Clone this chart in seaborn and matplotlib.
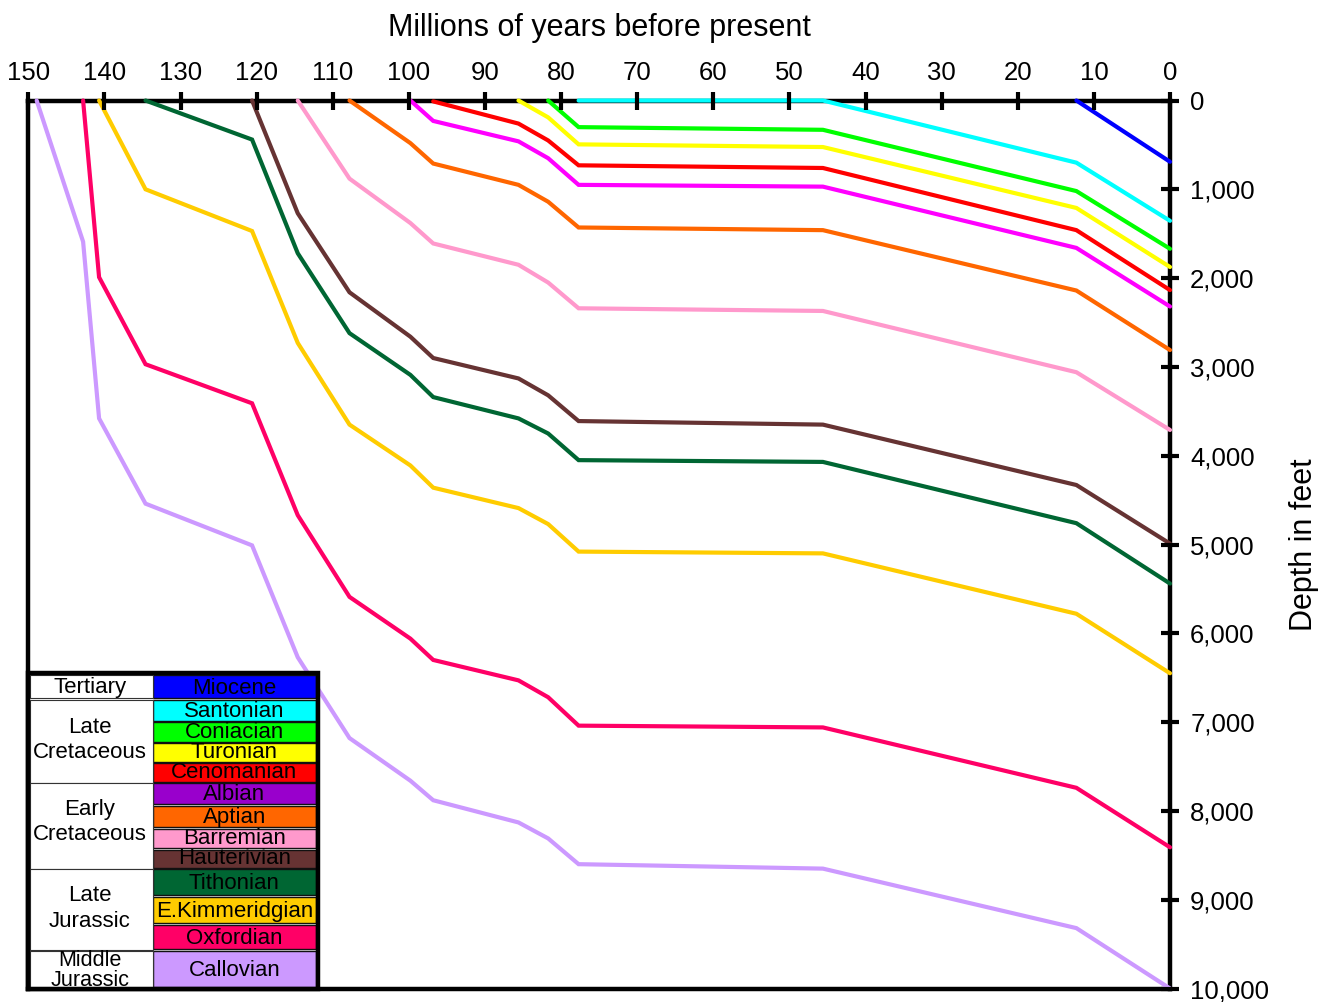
import matplotlib
matplotlib.use("Agg")
import matplotlib.pyplot as plt
from matplotlib.patches import Rectangle
import seaborn as sns
import pandas as pd

# ---------------- data ----------------
AGES = [148.9, 142.8, 140.7, 134.6, 120.6, 114.6, 107.8, 99.8, 96.8,
        85.6, 81.7, 77.7, 45.6, 12.3, 0.0]

STAGES = ["Miocene", "Santonian", "Coniacian", "Turonian", "Cenomanian",
          "Albian", "Aptian", "Barremian", "Hauterivian", "Tithonian",
          "E.Kimmeridgian", "Oxfordian", "Callovian"]

# depth (feet) of the top of each stage; each series ends at present (age 0)
miocene = [0, 690]
santonian = [0, 0, 700, 1355]
coniacian = [0, 300, 330, 1020, 1670]
turonian = [0, 190, 494, 524, 1210, 1875]
cenomanian = [10, 260, 450, 730, 760, 1460, 2135]
albian = [0, 230, 460, 650, 950, 970, 1660, 2320]
aptian = [0, 480, 710, 950, 1140, 1430, 1460, 2140, 2810]
barremian = [0, 880, 1380, 1610, 1850, 2050, 2340, 2370, 3060, 3710]
hauterivian = [0, 1270, 2160, 2660, 2900, 3130, 3320, 3610, 3650, 4330, 4990]
tithonian = [0, 440, 1720, 2620, 3090, 3340, 3580, 3750, 4050, 4070, 4760, 5440]
kimmeridgian = [0, 1000, 1470, 2730, 3650, 4110, 4360, 4590, 4770, 5080,
                5100, 5780, 6450]
oxfordian = [0, 1990, 2970, 3410, 4670, 5590, 6060, 6300, 6530, 6720, 7040,
             7060, 7740, 8410]
callovian = [0, 1590, 3580, 4540, 5010, 6270, 7180, 7660, 7880, 8130, 8310,
             8600, 8650, 9320, 10000]

DEPTHS = [miocene, santonian, coniacian, turonian, cenomanian, albian, aptian,
          barremian, hauterivian, tithonian, kimmeridgian, oxfordian, callovian]

LINE_COLORS = ["#0000FF", "#00FFFF", "#00FF00", "#FFFF00", "#FF0000",
               "#FF00FF", "#FF6600", "#FF99CC", "#663333", "#006633",
               "#FFCC00", "#FF0066", "#CC99FF"]
LEGEND_COLORS = ["#0000FF", "#00FFFF", "#00FF00", "#FFFF00", "#FF0000",
                 "#9900CC", "#FF6600", "#FF99CC", "#663333", "#006633",
                 "#FFCC00", "#FF0066", "#CC99FF"]

PERIODS = ["Tertiary", "Late\nCretaceous", "Early\nCretaceous",
           "Late\nJurassic", "Middle\nJurassic"]

X_TICKS = list(range(150, -1, -10))
Y_TICKS = list(range(0, 10001, 1000))
Y_TICK_LABELS = [f"{v:,}" for v in Y_TICKS]

# ---------------- build table ----------------
rows = []
for stage, dep in zip(STAGES, DEPTHS):
    for a, d in zip(AGES[-len(dep):], dep):
        rows.append({"stage": stage, "age": a, "depth": d})
df = pd.DataFrame(rows)

# ---------------- style ----------------
sns.set_theme(style="white")
plt.rcParams["font.family"] = ["Liberation Sans", "DejaVu Sans"]

W, H = 1336, 1002
fig = plt.figure(figsize=(W / 100, H / 100), dpi=100)
fig.patch.set_facecolor("white")

X0, X1, Y0, Y1 = 28.3, 1170.0, 100.5, 988.5
ax = fig.add_axes([X0 / W, 1 - Y1 / H, (X1 - X0) / W, (Y1 - Y0) / H])

palette = dict(zip(STAGES, LINE_COLORS))
sns.lineplot(data=df, x="age", y="depth", hue="stage", hue_order=STAGES,
             palette=palette, estimator=None, sort=False, linewidth=3,
             legend=False, ax=ax)

for ln in ax.lines:
    ln.set_clip_on(False)
    ln.set_zorder(2.3)
    ln.set_solid_joinstyle("miter")

ax.set_xlim(150, 0)
ax.set_ylim(10000, 0)
ax.xaxis.tick_top()
ax.xaxis.set_label_position("top")
ax.yaxis.tick_right()
ax.yaxis.set_label_position("right")
ax.set_xticks(X_TICKS)
ax.set_xticklabels([str(v) for v in X_TICKS])
ax.set_yticks(Y_TICKS)
ax.set_yticklabels(Y_TICK_LABELS)
ax.tick_params(axis="both", direction="inout", length=13, width=3,
               color="black", labelsize=18.5, labelcolor="black")
ax.tick_params(axis="x", pad=5)
ax.tick_params(axis="y", pad=8)
ax.set_axisbelow(False)
for sp in ax.spines.values():
    sp.set_linewidth(3.2)
    sp.set_color("black")
    sp.set_zorder(2.2)
ax.grid(False)
ax.set_xlabel("Millions of years before present", fontsize=22,
              labelpad=18, color="black")
ax.set_ylabel("Depth in feet", fontsize=22, labelpad=14, color="black")

# ---------------- legend table (pixel coordinates) ----------------
lax = fig.add_axes([0, 0, 1, 1])
lax.set_xlim(0, W)
lax.set_ylim(H, 0)
lax.axis("off")
lax.patch.set_visible(False)

BL, BR, BT, BB = 28.3, 318.0, 673.0, 988.5
lax.add_patch(Rectangle((BL, BT), BR - BL, BB - BT, facecolor="white",
                        edgecolor="none", zorder=1))

cell_rows = [(675, 698.3), (700, 720.7), (721.7, 741.7), (742.7, 762.3),
             (763.3, 781.7), (783.3, 804), (805.7, 826.7), (829, 848.3),
             (850, 868.3), (869.3, 895), (896.7, 923.3), (925, 949.3),
             (951, 986.7)]
CX0, CX1 = 152.7, 316.0
for (top, bot), name, col in zip(cell_rows, STAGES, LEGEND_COLORS):
    lax.add_patch(Rectangle((CX0, top), CX1 - CX0, bot - top, facecolor=col,
                            edgecolor="#111111", linewidth=1.0, zorder=2))
    base = min(bot - 4, (top + bot) / 2 + 7)
    lax.text((CX0 + CX1) / 2, base, name, ha="center", va="baseline",
             fontsize=16, color="black", zorder=3)

group_rows = [(675, 698.3), (699.5, 782.5), (783.3, 869), (869, 950),
              (951, 987)]
line_baselines = [[693.3], [732.7, 758.3], [815, 840], [900.7, 926.7],
                  [965.5, 985.5]]
line_sizes = [16, 16, 16, 16, 15.5]
GX0, GX1 = 30.0, 152.7
for (top, bot), label, bases, fs in zip(group_rows, PERIODS, line_baselines,
                                        line_sizes):
    lax.add_patch(Rectangle((GX0, top), GX1 - GX0, bot - top,
                            facecolor="white", edgecolor="#333333",
                            linewidth=0.8, zorder=2))
    for txt, b in zip(label.split("\n"), bases):
        lax.text(90, b, txt, ha="center", va="baseline", fontsize=fs,
                 color="black", zorder=3)

lax.add_patch(Rectangle((BL, BT), BR - BL, BB - BT, facecolor="none",
                        edgecolor="black", linewidth=3.2, zorder=4))

fig.savefig("out.png", dpi=100, facecolor="white")
